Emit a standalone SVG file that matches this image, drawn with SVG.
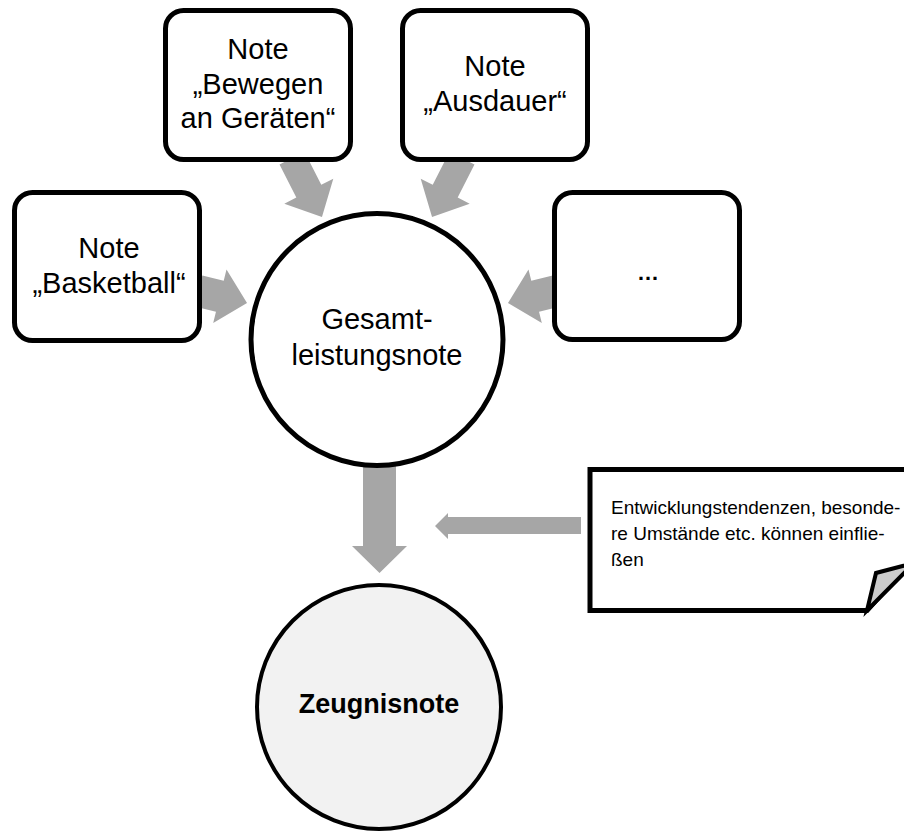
<svg xmlns="http://www.w3.org/2000/svg" width="904" height="832" viewBox="0 0 904 832">
<style>
.box{fill:#fff;stroke:#000;stroke-width:5}
.circ{stroke:#000}
.arr{fill:#a6a6a6}
.t{font-family:"Liberation Sans",Arial,sans-serif;font-size:29px;fill:#000;text-anchor:middle}
.small{font-family:"Liberation Sans",Arial,sans-serif;font-size:19px;fill:#000}
</style>
<defs>
<path id="a1" d="M0,-14 L37,-14 L37,-27.5 L66,0 L37,27.5 L37,14 L0,14 Z"/>
<path id="a2" d="M0,-16 L22,-16 L22,-27.5 L50,0 L22,27.5 L22,16 L0,16 Z"/>
</defs>
<rect width="904" height="832" fill="#fff"/>
<g id="connectors" class="arr">
<use href="#a1" transform="translate(292,158.2) rotate(63)"/>
<use href="#a1" transform="translate(462,158.2) rotate(117)"/>
<use href="#a2" transform="translate(198.5,290.9) rotate(14)"/>
<use href="#a2" transform="translate(556.5,290.9) rotate(166)"/>
<path d="M363,465 H396 V546 H407 L379.5,573 L352,546 H363 Z"/>
<path d="M581,517 V534 H448 V539 L435,526 L448,513 V517 Z"/>
</g>
<g id="node-bewegen">
<rect class="box" x="165.5" y="10.5" width="185" height="149" rx="18"/>
<text class="t" x="258" y="59">Note</text>
<text class="t" x="258" y="94">„Bewegen</text>
<text class="t" x="258" y="128">an Geräten“</text>
</g>
<g id="node-ausdauer">
<rect class="box" x="402.5" y="10.5" width="185" height="149" rx="18"/>
<text class="t" x="495" y="76">Note</text>
<text class="t" x="495" y="111">„Ausdauer“</text>
</g>
<g id="node-basketball">
<rect class="box" x="14.5" y="192.5" width="185" height="148" rx="18"/>
<text class="t" x="109" y="258">Note</text>
<text class="t" x="109" y="293">„Basketball“</text>
</g>
<g id="node-more">
<rect class="box" x="554.5" y="192.5" width="185" height="147" rx="18"/>
<text class="t" x="648" y="280" style="font-size:22px;font-weight:bold">…</text>
</g>
<g id="node-gesamt">
<circle class="circ" cx="377" cy="339.5" r="126" fill="#fff" stroke-width="5"/>
<text class="t" x="377" y="329">Gesamt-</text>
<text class="t" x="377" y="365">leistungsnote</text>
</g>
<g id="node-zeugnis">
<circle class="circ" cx="379" cy="707" r="122" fill="#f2f2f2" stroke-width="4"/>
<text class="t" x="379" y="713" style="font-weight:bold;font-size:27px">Zeugnisnote</text>
</g>
<g id="node-hinweis">
<path d="M590,469.5 L912,469.5 L912,560 L867,610.5 L590,610.5 Z" fill="#fff" stroke="#000" stroke-width="5" stroke-linejoin="miter"/>
<path d="M867,610.5 L876,573 L914,563 Z" fill="#cccccc" stroke="#000" stroke-width="4" stroke-linejoin="miter"/>
<text class="small" x="611" y="514">Entwicklungstendenzen, besonde-</text>
<text class="small" x="611" y="540">re Umstände etc. können einflie-</text>
<text class="small" x="611" y="566">ßen</text>
</g>
</svg>
